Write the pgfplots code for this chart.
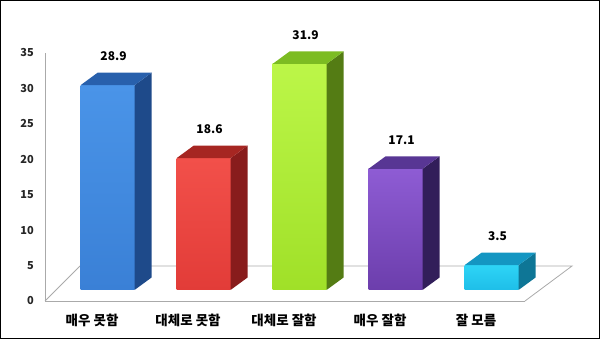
\documentclass[border=0pt]{standalone}
\usepackage{fontspec}
\setmainfont{Noto Sans CJK KR}
\usepackage{pgfplots}
\pgfplotsset{compat=1.18}

\definecolor{bluef1}{RGB}{74,148,232}
\definecolor{bluef2}{RGB}{58,128,214}
\definecolor{blues}{RGB}{30,74,138}
\definecolor{bluet}{RGB}{40,96,172}
\definecolor{redf1}{RGB}{242,80,74}
\definecolor{redf2}{RGB}{226,60,56}
\definecolor{reds}{RGB}{136,28,28}
\definecolor{redt}{RGB}{166,38,34}
\definecolor{grnf1}{RGB}{188,246,72}
\definecolor{grnf2}{RGB}{160,224,40}
\definecolor{grns}{RGB}{84,124,20}
\definecolor{grnt}{RGB}{124,188,34}
\definecolor{purf1}{RGB}{142,92,212}
\definecolor{purf2}{RGB}{108,62,172}
\definecolor{purs}{RGB}{50,30,90}
\definecolor{purt}{RGB}{88,54,148}
\definecolor{cyaf1}{RGB}{46,212,246}
\definecolor{cyaf2}{RGB}{30,190,232}
\definecolor{cyas}{RGB}{14,118,150}
\definecolor{cyat}{RGB}{20,150,194}
\definecolor{floorgray}{RGB}{170,170,170}

% one 3D bar: #1 category index, #2 value, #3 front top, #4 front bottom, #5 side, #6 top
\newcommand{\threedbar}[6]{%
  \addplot[ybar, bar width=54pt, bar shift=0pt, draw=none,
    top color=#3, bottom color=#4, shift={(15.5pt,11pt)},
    nodes near coords,
    every node near coord/.append style={font=\bfseries\fontsize{12}{14}\selectfont,
      text=black, anchor=center, xshift=6pt, yshift=29pt}]
    coordinates {(#1,#2)};
  \pgfmathsetmacro\xl{#1-0.28125}%
  \pgfmathsetmacro\xr{#1+0.28125}%
  \pgfmathsetmacro\xrr{#1+0.28125+0.17708}%
  \pgfmathsetmacro\xlr{#1-0.28125+0.17708}%
  \pgfmathsetmacro\vt{#2+1.76}%
  \addplot[fill=#5, draw=none, shift={(15.5pt,11pt)}]
    coordinates {(\xr,0) (\xrr,1.76) (\xrr,\vt) (\xr,#2) (\xr,0)};
  \addplot[fill=#6, draw=none, shift={(15.5pt,11pt)}]
    coordinates {(\xl,#2) (\xr,#2) (\xrr,\vt) (\xlr,\vt) (\xl,#2)};
}

\begin{document}
\begin{tikzpicture}
\useasboundingbox (0,0) rectangle (600pt,339pt);
\draw[black, line width=1pt] (0.5pt,0.5pt) rectangle (599.5pt,338.5pt);
\begin{axis}[
  at={(45pt,38pt)}, anchor=south west,
  scale only axis, width=480pt, height=248pt,
  xmin=-0.49, xmax=4.51, ymin=0, ymax=35,
  axis lines=left, axis line style={floorgray, -},
  major tick length=0pt,
  xtick={0,1,2,3,4},
  xticklabels={매우 못함, 대체로 못함, 대체로 잘함, 매우 잘함, 잘 모름},
  ytick={0,5,...,35},
  /pgf/number format/assume math mode=true,
  xticklabel style={font=\bfseries\fontsize{13.5}{15}\selectfont, text=black, anchor=center, yshift=-19pt},
  yticklabel style={font=\bfseries\fontsize{11}{12}\selectfont, text=black!85, anchor=east, inner sep=0pt, xshift=-11pt},
  clip=false,
]
% floor
\addplot[floorgray, line width=0.8pt] coordinates {(-0.49,0) (-0.125,4.94) (5.0,4.94) (4.51,0)};

\threedbar{0}{28.9}{bluef1}{bluef2}{blues}{bluet}
\threedbar{1}{18.6}{redf1}{redf2}{reds}{redt}
\threedbar{2}{31.9}{grnf1}{grnf2}{grns}{grnt}
\threedbar{3}{17.1}{purf1}{purf2}{purs}{purt}
\threedbar{4}{3.5}{cyaf1}{cyaf2}{cyas}{cyat}
\end{axis}
\end{tikzpicture}
\end{document}
